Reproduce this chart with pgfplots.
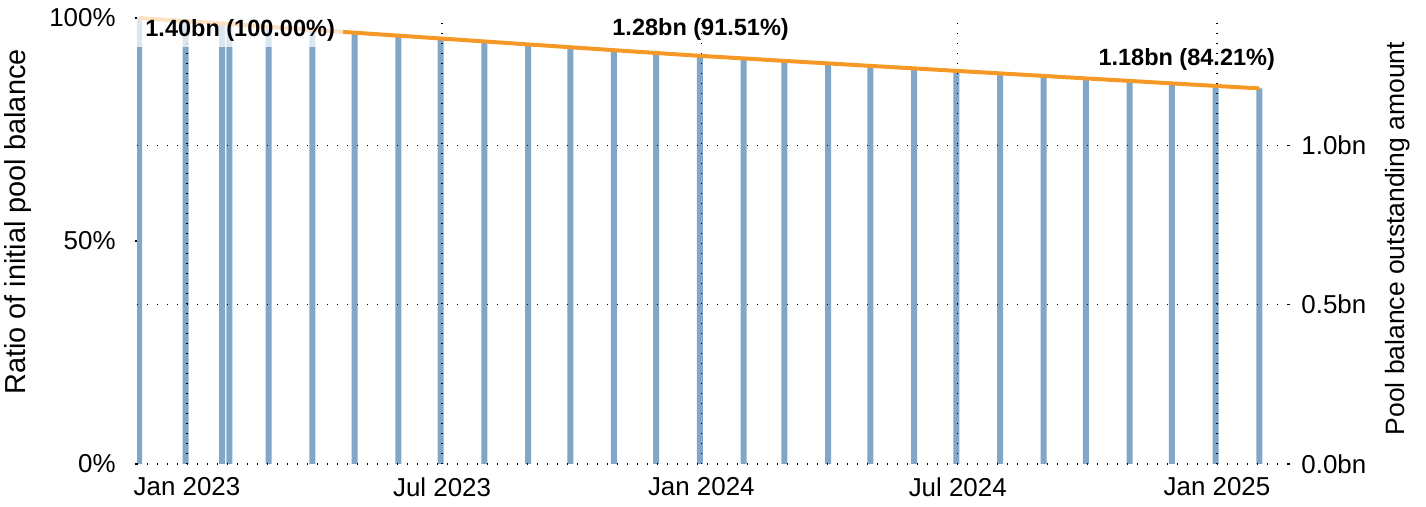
\documentclass[border=0pt]{standalone}
\usepackage{pgfplots}
\usepackage{pgfplotstable}
\pgfplotsset{compat=1.18}
\usepackage{fontspec}
\setmainfont{Liberation Sans}
\definecolor{barblue}{RGB}{128,166,200}
\definecolor{lineorange}{RGB}{245,152,38}

% day = days since 1 Jan 2023; amount in bn; ratio in %
\pgfplotstableread{
day amount ratio
-34 1.4000 100.00
-1  1.3902 99.30
25  1.3826 98.76
30  1.3811 98.65
58  1.3723 98.02
89  1.3629 97.35
119 1.3538 96.70
150 1.3446 96.04
180 1.3356 95.40
211 1.3264 94.74
242 1.3171 94.08
272 1.3082 93.44
303 1.2989 92.78
333 1.2901 92.15
364 1.2811 91.51
395 1.2732 90.94
424 1.2653 90.38
455 1.2575 89.82
485 1.2496 89.26
516 1.2418 88.70
546 1.2340 88.14
577 1.2261 87.58
608 1.2181 87.01
638 1.2103 86.45
669 1.2025 85.89
699 1.1946 85.33
730 1.1868 84.77
761 1.1789 84.21
}\pooldata

\pgfplotsset{
  common/.style={
    at={(0,0)}, anchor=south west,
    scale only axis, width=575.5bp, height=224.5bp,
    xmin=-35.5, xmax=781.4,
    axis line style={draw=none},
    tick align=outside,
    major tick length=1.2bp,
    tick label style={font=\fontsize{13}{15}\selectfont},
    /pgf/number format/assume math mode=true,
  }
}

\begin{document}
\begin{tikzpicture}
\useasboundingbox (-68.5bp,-21.5bp) rectangle (644.5bp,232bp);
% right axis: pool balance bars
\begin{axis}[
  common,
  ymin=0, ymax=1.4094,
  axis y line*=right, axis x line*=bottom,
  xtick={0,181,365,547,731},
  xticklabels={Jan 2023,Jul 2023,Jan 2024,Jul 2024,Jan 2025},
  x tick style={draw=none},
  ytick={0,0.5,1.0},
  yticklabels={0.0bn,0.5bn,1.0bn},
  y tick style={black, line width=0.7bp},
  grid=major,
  major grid style={black, line width=0.7bp, dash pattern=on 0.7bp off 4.3bp},
  axis on top,
  ylabel={Pool balance outstanding amount},
  ylabel style={font=\fontsize{13.3}{15}\selectfont, at={(axis description cs:1.0956,0.502)}, anchor=center},
  xticklabel style={yshift=-2bp},
  yticklabel style={xshift=2bp},
]
\addplot[ybar, bar width=3bp, bar shift=0pt, fill=barblue, draw=none] table[x=day, y=amount] {\pooldata};
\end{axis}
% left axis: ratio line
\begin{axis}[
  common,
  ymin=0, ymax=100.67,
  clip=false,
  axis y line*=left, axis x line*=bottom,
  xtick=\empty,
  ytick={0,50,100},
  yticklabels={0\%,50\%,100\%},
  y tick style={black, line width=0.7bp},
  yticklabel style={xshift=-6bp},
  ylabel={Ratio of initial pool balance},
  ylabel style={font=\fontsize{14.5}{16}\selectfont, at={(axis description cs:-0.1034,0.539)}, anchor=center},
]
\addplot[lineorange, line width=2bp] table[x=day, y=ratio] {\pooldata};
\node[fill=white, fill opacity=0.72, text opacity=1, inner xsep=4bp, inner ysep=3bp, anchor=west,
  font=\fontsize{11.8}{13}\selectfont\bfseries] at (axis cs:-35.5,97.3) {1.40bn (100.00\%)\hspace{4.5bp}};
\node[font=\fontsize{11.8}{13}\selectfont\bfseries] at (axis cs:364.5,97.4) {1.28bn (91.51\%)};
\node[font=\fontsize{11.8}{13}\selectfont\bfseries] at (axis cs:709.5,90.8) {1.18bn (84.21\%)};
\end{axis}
\end{tikzpicture}
\end{document}
